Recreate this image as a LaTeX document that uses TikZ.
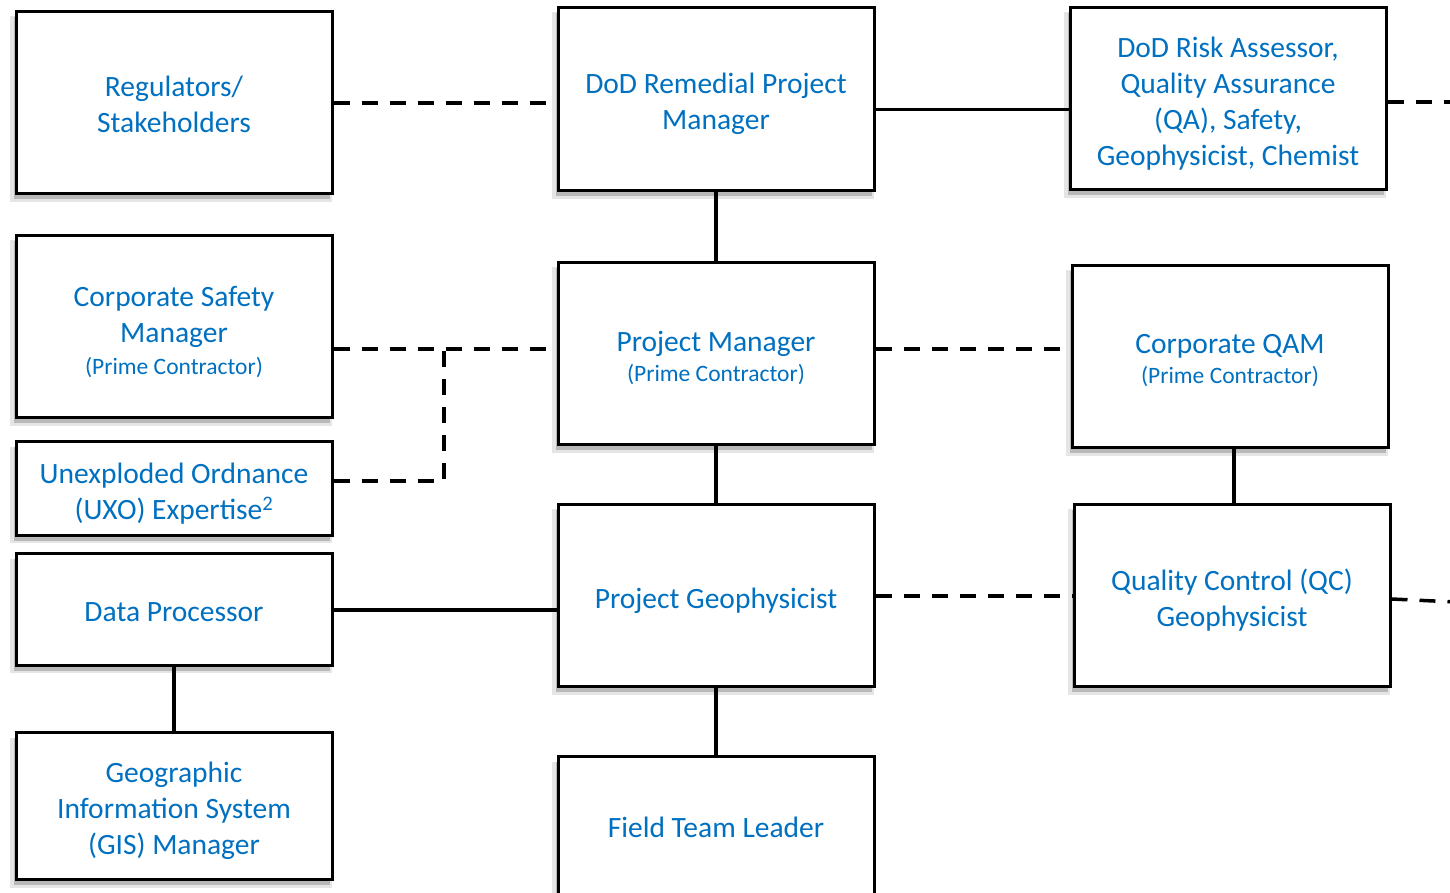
\documentclass[tikz,border=0pt]{standalone}
\usepackage{fontspec}
\setmainfont{Carlito}
\usetikzlibrary{shadows}
\definecolor{txtblue}{HTML}{0070C0}
\begin{document}
\begin{tikzpicture}[x=1pt,y=1pt,
  box/.style={draw=black, line width=3pt, fill=white, minimum width=316pt, inner sep=0pt,
    drop shadow={shadow xshift=-3pt, shadow yshift=-6pt, shadow scale=1.02, fill=black!10, opacity=1},
    drop shadow={shadow xshift=-2pt, shadow yshift=-5pt, fill=black!28, opacity=1}},
  txt/.style={align=center, text=txtblue, inner sep=0pt, font=\fontsize{29.5}{36}\selectfont},
  solidline/.style={line width=3.5pt},
  dashline/.style={line width=3.5pt, dash pattern=on 16pt off 12pt}]
\useasboundingbox (0,0) rectangle (1450,893);
\clip (0,0) rectangle (1450,893);
\newcommand{\smalltxt}[1]{{\fontsize{23.5}{30}\selectfont #1}}
\node[box, minimum height=182pt, label={[txt,yshift=-1.5pt]center:{Regulators/\\Stakeholders}}] (reg) at (174,790) {};
\node[box, minimum height=183pt, label={[txt,yshift=-4pt]center:{DoD Remedial Project\\Manager}}] (rpm) at (716,793.5) {};
\node[box, minimum height=182pt, label={[txt,yshift=-5pt]center:{DoD Risk Assessor,\\Quality Assurance\\(QA), Safety,\\Geophysicist, Chemist}}] (risk) at (1228,794) {};
\node[box, minimum height=182pt, label={[txt,yshift=-5pt]center:{Corporate Safety\\Manager\\[-4pt]\smalltxt{(Prime Contractor)}}}] (safety) at (174,566) {};
\node[box, minimum height=182pt, label={[txt,yshift=-4pt]center:{Project Manager\\[-6pt]\smalltxt{(Prime Contractor)}}}] (pm) at (716,539) {};
\node[box, minimum height=182pt, label={[txt,yshift=-4pt]center:{Corporate QAM\\[-6pt]\smalltxt{(Prime Contractor)}}}] (qam) at (1230,536) {};
\node[box, minimum height=94pt, label={[txt,yshift=-5pt]center:{Unexploded Ordnance\\(UXO) Expertise\textsuperscript{2}}}] (uxo) at (174,404) {};
\node[box, minimum height=112pt, label={[txt,yshift=-2pt]center:{Data Processor}}] (dp) at (174,283) {};
\node[box, minimum height=182pt, label={[txt,yshift=-5pt]center:{Project Geophysicist}}] (pg) at (716,297) {};
\node[box, minimum height=182pt, label={[txt,yshift=-4pt]center:{Quality Control (QC)\\Geophysicist}}] (qc) at (1232,297) {};
\node[box, minimum height=147pt, label={[txt,yshift=-4pt]center:{Geographic\\Information System\\(GIS) Manager}}] (gis) at (174,86.5) {};
\node[box, minimum height=140pt, label={[txt]center:{Field Team Leader}}] (ftl) at (716,66) {};
\coordinate (offr1) at (1455,791);
\coordinate (offr2) at (1455,291);
\coordinate (j1) at (444,544);
% connectors
\draw[dashline] (reg.east) -- (reg.east -| rpm.west);
\draw[solidline] ([yshift=-10pt]rpm.east) -- ([yshift=-10pt]rpm.east -| risk.west);
\draw[dashline] ([yshift=-3pt]risk.east) -- (offr1);
\draw[solidline] (rpm.south) -- (pm.north);
\draw[dashline] ([yshift=-22pt]safety.east) -- (j1) -- (j1 -| pm.west);
\draw[dashline] ([yshift=8pt]uxo.east) -| (j1);
\draw[dashline] ([yshift=5pt]pm.east) -- ([yshift=5pt]pm.east -| qam.west);
\draw[solidline] (pm.south) -- (pg.north);
\draw[solidline] ([xshift=4pt]qam.south) -- ([xshift=4pt]qam.south |- qc.north);
\draw[solidline] (dp.east) -- (dp.east -| pg.west);
\draw[dashline] (pg.east) -- (pg.east -| qc.west);
\draw[dashline] ([yshift=-3pt]qc.east) -- (offr2);
\draw[solidline] (dp.south) -- (gis.north);
\draw[solidline] (pg.south) -- (ftl.north);
\end{tikzpicture}
\end{document}
